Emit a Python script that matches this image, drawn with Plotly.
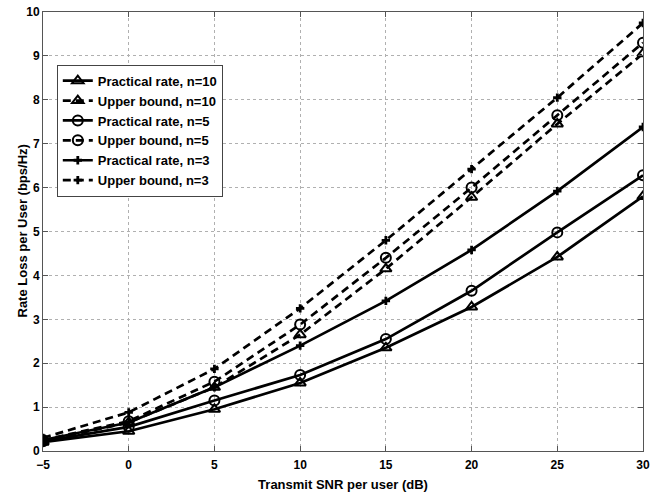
import plotly.graph_objects as go

snr = [-5, 0, 5, 10, 15, 20, 25, 30]
prac_n10 = [0.20, 0.45, 0.95, 1.55, 2.35, 3.28, 4.42, 5.80]
upper_n10 = [0.22, 0.65, 1.45, 2.65, 4.15, 5.78, 7.45, 9.05]
prac_n5 = [0.22, 0.55, 1.15, 1.73, 2.55, 3.65, 4.98, 6.28]
upper_n5 = [0.25, 0.68, 1.58, 2.88, 4.40, 6.00, 7.65, 9.30]
prac_n3 = [0.25, 0.65, 1.45, 2.40, 3.42, 4.58, 5.92, 7.38]
upper_n3 = [0.30, 0.88, 1.87, 3.25, 4.80, 6.42, 8.05, 9.75]

series = [
    ("Practical rate, n=10", prac_n10, "solid", "triangle-up-open"),
    ("Upper bound, n=10", upper_n10, "8px,5px", "triangle-up-open"),
    ("Practical rate, n=5", prac_n5, "solid", "circle-open"),
    ("Upper bound, n=5", upper_n5, "8px,5px", "circle-open"),
    ("Practical rate, n=3", prac_n3, "solid", "cross"),
    ("Upper bound, n=3", upper_n3, "8px,5px", "cross"),
]

fig = go.Figure()
for name, ys, dash, sym in series:
    is_cross = sym == "cross"
    fig.add_trace(go.Scatter(
        x=snr, y=ys, name=name, mode="lines+markers",
        line=dict(color="black", width=2.7, dash=dash),
        marker=dict(symbol=sym, size=7 if is_cross else 10, color="black",
                    line=dict(color="black", width=0 if is_cross else 2)),
    ))

font = "Liberation Sans, Arial, sans-serif"
axis_common = dict(
    showline=True, linecolor="#555555", linewidth=1, mirror="ticks",
    ticks="inside", ticklen=5, tickcolor="#555555",
    showgrid=True, gridcolor="#b0b0b0", griddash="dot", gridwidth=1,
    zeroline=False, automargin=False,
    tickfont=dict(family=font, size=12, color="black", weight="bold"),
)
fig.update_xaxes(range=[-5, 30], dtick=5, tick0=-5, ticklabelstandoff=3,
                 title=dict(text="Transmit SNR per user (dB)",
                            font=dict(family=font, size=13, color="black", weight="bold"),
                            standoff=8),
                 **axis_common)
fig.update_yaxes(range=[0, 10], dtick=1, **axis_common)

fig.add_annotation(
    text="Rate Loss per User (bps/Hz)", textangle=-90,
    xref="paper", yref="paper", x=-0.035, y=0.5,
    xanchor="center", yanchor="middle", showarrow=False,
    font=dict(family=font, size=13, color="black", weight="bold"),
)

fig.update_layout(
    width=650, height=494,
    margin=dict(l=43, r=7, t=12, b=43),
    paper_bgcolor="white", plot_bgcolor="white",
    showlegend=True,
    legend=dict(x=0.023, y=0.88, xanchor="left", yanchor="top",
                bgcolor="white", bordercolor="#444444", borderwidth=1,
                font=dict(family=font, size=13, color="black", weight="bold"),
                tracegroupgap=0, itemwidth=30),
)

fig.write_html("out.html")
